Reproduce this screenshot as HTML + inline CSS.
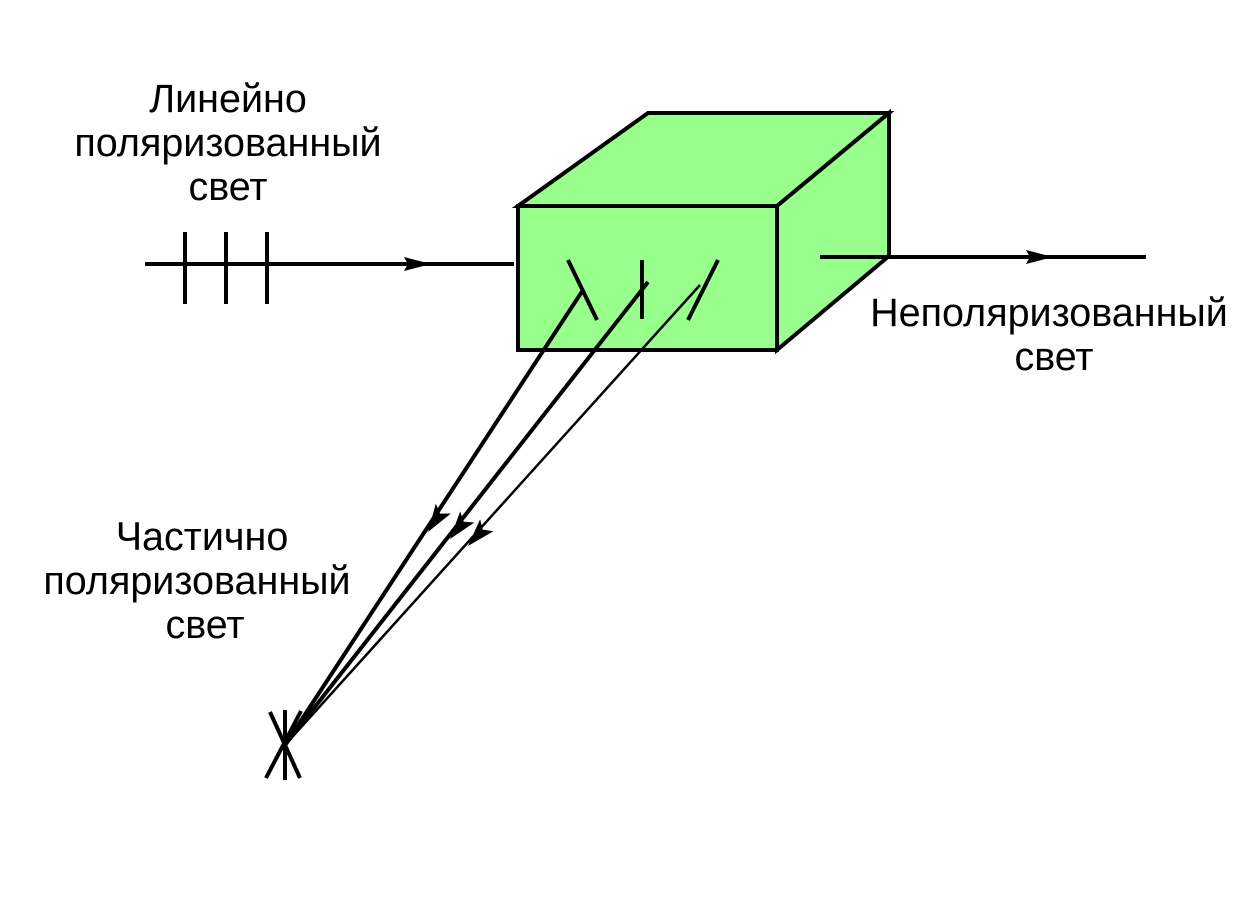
<!DOCTYPE html>
<html><head><meta charset="utf-8"><style>
body{margin:0;background:#fff;width:1246px;height:910px;overflow:hidden}
text{font-family:"Liberation Sans",Arial,sans-serif;font-size:39.5px;fill:#000}
</style></head><body>
<svg width="1246" height="910" viewBox="0 0 1246 910" xmlns="http://www.w3.org/2000/svg">
<polygon points="518,206 648,113 889,113 777,206" fill="#99ff8c" stroke="#000" stroke-width="4"/>
<polygon points="777,206 889,113 889,256 777,350" fill="#99ff8c" stroke="#000" stroke-width="4"/>
<rect x="518" y="206" width="259" height="144" fill="#99ff8c" stroke="#000" stroke-width="4"/>
<line x1="145" y1="264" x2="514" y2="264" stroke="#000" stroke-width="4"/>
<polygon points="431,264 404,257 408,264 404,271" fill="#000"/>
<line x1="185" y1="232" x2="185" y2="304" stroke="#000" stroke-width="4"/>
<line x1="226" y1="232" x2="226" y2="304" stroke="#000" stroke-width="4"/>
<line x1="267" y1="232" x2="267" y2="304" stroke="#000" stroke-width="4"/>
<line x1="820" y1="257" x2="1146" y2="257" stroke="#000" stroke-width="4"/>
<polygon points="1053,257 1026,250 1030,257 1026,264" fill="#000"/>
<line x1="568" y1="260" x2="597" y2="320" stroke="#000" stroke-width="4"/>
<line x1="642" y1="260" x2="642" y2="319" stroke="#000" stroke-width="4"/>
<line x1="718" y1="260" x2="688" y2="320" stroke="#000" stroke-width="4"/>
<line x1="583" y1="290" x2="285" y2="745" stroke="#000" stroke-width="4"/>
<line x1="648" y1="282" x2="285" y2="745" stroke="#000" stroke-width="4"/>
<line x1="700" y1="285" x2="285" y2="745" stroke="#000" stroke-width="2.5"/>
<g transform="translate(428,532) rotate(123.2)"><polygon points="0,0 -28,-9 -22,0 -28,9" fill="#000"/></g>
<g transform="translate(450,539) rotate(128.1)"><polygon points="0,0 -28,-9 -22,0 -28,9" fill="#000"/></g>
<g transform="translate(468,546) rotate(132.1)"><polygon points="0,0 -28,-9 -22,0 -28,9" fill="#000"/></g>
<line x1="270" y1="712" x2="300" y2="778" stroke="#000" stroke-width="4"/>
<line x1="285" y1="710" x2="285" y2="780" stroke="#000" stroke-width="4"/>
<line x1="301" y1="711" x2="266" y2="778" stroke="#000" stroke-width="4"/>
<text x="228" y="112" text-anchor="middle">Линейно</text>
<text x="228" y="156" text-anchor="middle">поляризованный</text>
<text x="228" y="200" text-anchor="middle">свет</text>
<text x="1049" y="326" text-anchor="middle">Неполяризованный</text>
<text x="1054" y="370" text-anchor="middle">свет</text>
<text x="202" y="550" text-anchor="middle">Частично</text>
<text x="197" y="594" text-anchor="middle">поляризованный</text>
<text x="205" y="638" text-anchor="middle">свет</text>
</svg>
</body></html>
